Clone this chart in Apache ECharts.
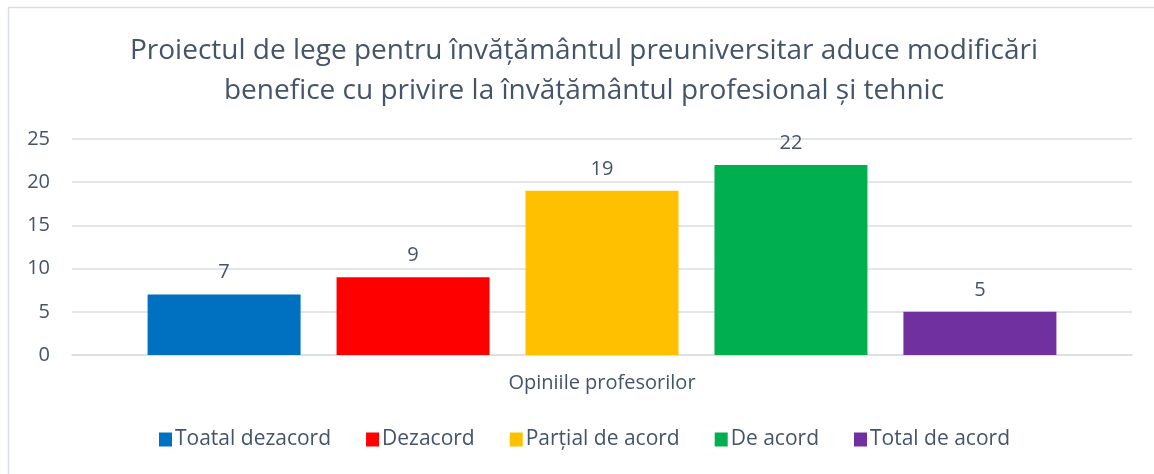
<!DOCTYPE html>
<html>
<head>
<meta charset="utf-8">
<script src="https://cdn.jsdelivr.net/npm/echarts@6/dist/echarts.min.js"></script>
<style>
  html, body { margin: 0; padding: 0; background: #fff; }
  #main { width: 1154px; height: 474px; }
</style>
</head>
<body>
<div id="main"></div>
<script>
// date din grafic
var titleText = 'Proiectul de lege pentru învățământul preuniversitar aduce modificări\nbenefice cu privire la învățământul profesional și tehnic';
var categories = ['Opiniile profesorilor'];
var seriesNames = ['Toatal dezacord', 'Dezacord', 'Parțial de acord', 'De acord', 'Total de acord'];
var seriesValues = [7, 9, 19, 22, 5];
var seriesColors = ['#0070C0', '#FF0000', '#FFC000', '#00B050', '#7030A0'];
var yTicks = [0, 5, 10, 15, 20, 25];

var textColor = '#44546A';
var fontFam = '"Open Sans", "Noto Sans", sans-serif';

var myChart = echarts.init(document.getElementById('main'));

var series = seriesNames.map(function (name, i) {
  return {
    name: name,
    type: 'bar',
    data: [seriesValues[i]],
    barWidth: 153,
    barGap: '23.5%',
    itemStyle: { color: seriesColors[i] },
    label: {
      show: true,
      position: 'top',
      distance: 12,
      color: textColor,
      fontSize: 20,
      fontFamily: fontFam
    }
  };
});

myChart.setOption({
  animation: false,
  textStyle: { fontFamily: fontFam },
  graphic: [{
    type: 'rect',
    shape: { x: 8.5, y: 7.5, width: 1160, height: 480 },
    style: { fill: 'none', stroke: '#D9DEE4', lineWidth: 1.5 },
    silent: true
  }, {
    // titlul, centrat pe cadrul graficului
    type: 'text',
    x: 584,
    y: 31,
    silent: true,
    style: {
      text: titleText,
      align: 'center',
      verticalAlign: 'top',
      fill: textColor,
      fontSize: 28,
      lineHeight: 40,
      fontFamily: fontFam
    }
  }],
  legend: {
    bottom: 19,
    left: 154,
    itemWidth: 13,
    itemHeight: 14,
    itemGap: 35,
    icon: 'rect',
    textStyle: { color: textColor, fontSize: 21, fontFamily: fontFam, padding: [0, 0, 0, -2] },
    data: seriesNames
  },
  grid: {
    left: 72,
    right: 22,
    top: 139,
    height: 216,
    containLabel: false
  },
  xAxis: {
    type: 'category',
    data: categories,
    axisLine: { lineStyle: { color: '#D9DEE4', width: 1.5 } },
    axisTick: { show: false },
    axisLabel: { color: textColor, fontSize: 20, margin: 18, fontFamily: fontFam }
  },
  yAxis: {
    type: 'value',
    min: yTicks[0],
    max: yTicks[yTicks.length - 1],
    interval: 5,
    axisLine: { show: false },
    axisTick: { show: false },
    axisLabel: { color: textColor, fontSize: 20, margin: 22, fontFamily: fontFam },
    splitLine: { lineStyle: { color: '#D9DEE4', width: 1.5 } }
  },
  series: series
});
</script>
</body>
</html>
